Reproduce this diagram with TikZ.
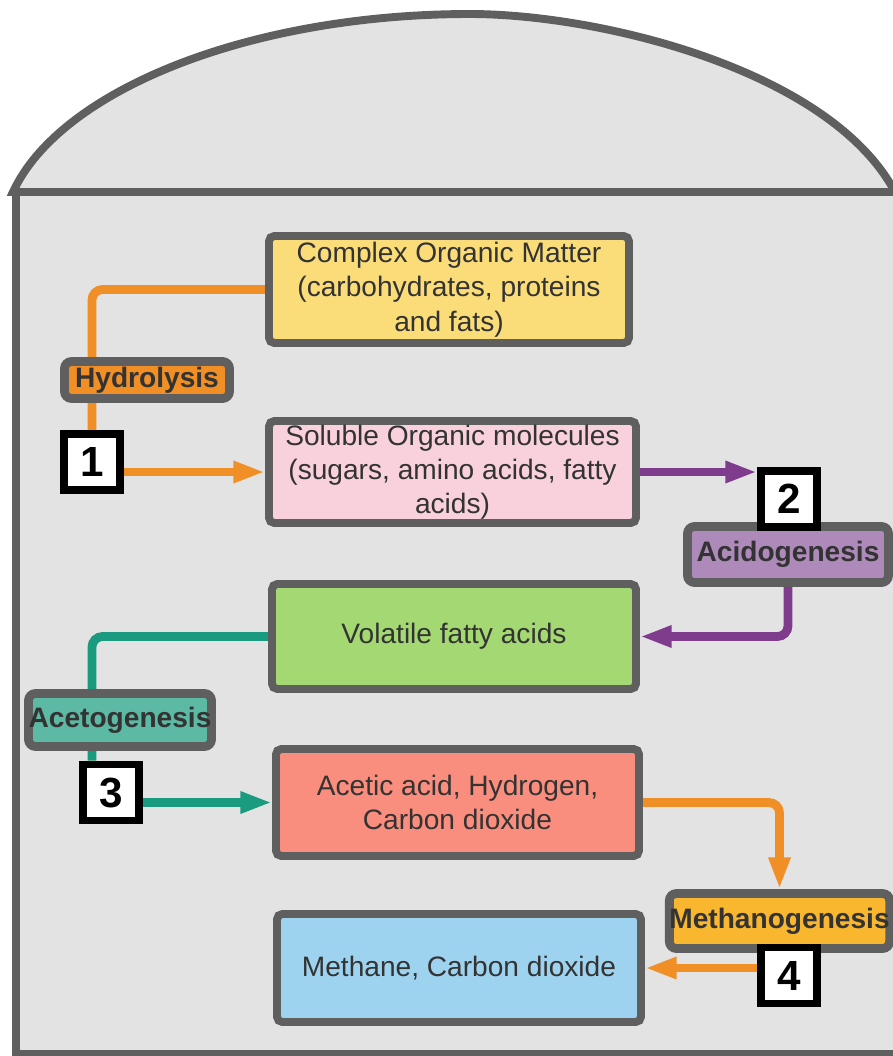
\documentclass[tikz,border=0pt]{standalone}
\usepackage{fontspec}
\setmainfont{Liberation Sans}
\usetikzlibrary{arrows.meta,backgrounds}
\definecolor{bg}{RGB}{227,227,227}
\definecolor{wall}{RGB}{95,95,95}
\definecolor{txt}{RGB}{51,51,51}
\definecolor{cyellow}{RGB}{250,220,120}
\definecolor{cpink}{RGB}{248,209,220}
\definecolor{cgreen}{RGB}{163,216,115}
\definecolor{csalmon}{RGB}{249,142,126}
\definecolor{cblue}{RGB}{158,211,240}
\definecolor{corange}{RGB}{239,143,37}
\definecolor{cpurple}{RGB}{127,60,141}
\definecolor{lpurple}{RGB}{174,138,186}
\definecolor{cteal}{RGB}{26,154,126}
\definecolor{lteal}{RGB}{92,185,164}
\definecolor{lgold}{RGB}{249,183,47}
\begin{document}
\begin{tikzpicture}[
		stage/.style={draw=wall, line width=4.5pt, rounded corners=3pt, align=center, text=txt, inner sep=0pt, font=\fontsize{16}{19.5}\selectfont},
		tag/.style={draw=wall, line width=5pt, rounded corners=4pt, text=txt, inner sep=0pt, font=\fontsize{16}{19}\selectfont\bfseries},
		num/.style={draw=black, line width=4.5pt, fill=white, minimum size=1.12cm, inner sep=0pt, font=\fontsize{24}{24}\selectfont\bfseries},
		flow/.style={line width=5pt, rounded corners=6pt},
		>={Triangle[length=18pt,width=11.5pt]}
		]
		\useasboundingbox (0,0) rectangle (17.86,-21.12);
		\begin{scope}[on background layer]
		\clip (0,0) rectangle (17.86,-21.12);
		\draw [wall, line width=4.5pt, fill=bg] (0.26,-3.84) .. controls (1.2,-1.8) and (5,-0.28) .. (9.4,-0.28) .. controls (12,-0.28) and (16.6,-1.4) .. (17.9,-3.84) -- cycle;
		\draw [wall, line width=4.5pt, fill=bg] (0.32,-3.84) rectangle (18.3,-21.08);
		\end{scope}
		\node [stage, fill=cyellow, minimum width=7.2cm, minimum height=2.14cm] (v1) at (8.98,-5.79) {Complex Organic Matter\\(carbohydrates, proteins\\and fats)};
		\node [stage, fill=cpink, minimum width=7.34cm, minimum height=2.04cm] (v2) at (9.05,-9.44) {Soluble Organic molecules\\(sugars, amino acids, fatty\\acids)};
		\node [stage, fill=cgreen, minimum width=7.28cm, minimum height=2.1cm] (v3) at (9.08,-12.73) {Volatile fatty acids};
		\node [stage, fill=csalmon, minimum width=7.26cm, minimum height=2.14cm] (v4) at (9.15,-16.05) {Acetic acid, Hydrogen,\\Carbon dioxide};
		\node [stage, fill=cblue, minimum width=7.28cm, minimum height=2.16cm] (v5) at (9.18,-19.36) {Methane, Carbon dioxide};
		\node [tag, fill=corange, minimum width=3.3cm, minimum height=0.74cm] (t1) at (2.94,-7.6) {Hydrolysis};
		\node [tag, fill=lpurple, minimum width=4.02cm, minimum height=1.12cm] (t2) at (15.76,-11.09) {Acidogenesis};
		\node [tag, fill=lteal, minimum width=3.66cm, minimum height=1.06cm] (t3) at (2.4,-14.4) {Acetogenesis};
		\node [tag, fill=lgold, minimum width=4.36cm, minimum height=1.1cm] (t4) at (15.59,-18.42) {Methanogenesis};
		\node [num] (n1) at (1.84,-9.24) {1};
		\node [num] (n2) at (15.78,-9.98) {2};
		\node [num] (n3) at (2.22,-15.85) {3};
		\node [num] (n4) at (15.78,-19.51) {4};
		\begin{scope}[on background layer]
		\draw [flow, corange] (v1.west) -| (n1.north);
		\draw [flow, corange, ->] (n1.east |- v2.west) -- (v2.west);
		\draw [flow, cpurple, ->] (v2.east) -- (v2.east -| n2.west);
		\draw [flow, cpurple, ->] (t2.south) |- (v3.east);
		\draw [flow, cteal] (v3.west) -| ([xshift=-0.38cm]n3.north);
		\draw [flow, cteal, ->] (n3.east |- v4.west) -- (v4.west);
		\draw [flow, corange, ->] (v4.east) -| (t4.north);
		\draw [flow, corange, ->] (n4.west |- v5.east) -- (v5.east);
		\end{scope}
		\end{tikzpicture}
\end{document}
